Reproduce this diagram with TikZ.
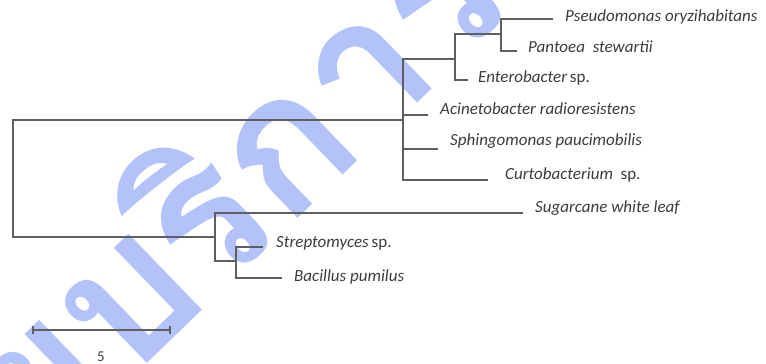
\documentclass[tikz,border=0pt]{standalone}
\usepackage{fontspec}
\setmainfont{Carlito}
\newfontfamily\thaifont[Script=Thai]{Loma}
\definecolor{wmblue}{RGB}{179,195,250}
\definecolor{branch}{RGB}{95,95,95}
\definecolor{labeltext}{RGB}{60,60,60}
\begin{document}
\begin{tikzpicture}[x=1pt,y=-1pt,
  branchline/.style={draw=branch,line width=1.3pt},
  leaflabel/.style={anchor=mid west,inner sep=0pt,text=labeltext,font=\fontsize{17}{20}\selectfont\itshape},
  scalelabel/.style={inner sep=0pt,text=labeltext,font=\fontsize{15}{17}\selectfont},
  wmtext/.style={inner sep=0pt,text=wmblue,font=\thaifont\bfseries\fontsize{190}{200}\selectfont,rotate=44}]
\useasboundingbox (0,0) rectangle (766,364);
% watermark
\begin{scope}
\clip (0,0) rectangle (766,364);
\node[wmtext,anchor=base west] (wm) at (125,385) {บริการ};
\node[wmtext,anchor=base east] (wmpre) at (wm.base west) {สำนักวิทย};
\end{scope}
% internal nodes
\coordinate (r)  at (13,178);
\coordinate (n3) at (403,120);
\coordinate (n5) at (215,237);
\coordinate (n2) at (455,59);
\coordinate (n1) at (501,34);
\coordinate (n4) at (236,261);
% leaf tips
\coordinate (psot) at (553,19);
\coordinate (pant) at (517,51);
\coordinate (entt) at (468,80);
\coordinate (acit) at (428,115);
\coordinate (spht) at (438,149);
\coordinate (curt) at (488,180);
\coordinate (sugt) at (523,213);
\coordinate (strt) at (263,247);
\coordinate (bact) at (282,278);
% branches
\draw[branchline] (n3) -| (r) |- (n5);
\draw[branchline] (n3) |- (n2);
\draw[branchline] (n3) |- (acit);
\draw[branchline] (n3) |- (spht);
\draw[branchline] (n3) |- (curt);
\draw[branchline] (n2) |- (n1);
\draw[branchline] (n2) |- (entt);
\draw[branchline] (n1) |- (psot);
\draw[branchline] (n1) |- (pant);
\draw[branchline] (n5) |- (sugt);
\draw[branchline] (n5) |- (n4);
\draw[branchline] (n4) |- (strt);
\draw[branchline] (n4) |- (bact);
% labels
\node[leaflabel] (psol) at (565,19) {Pseudomonas oryzihabitans};
\node[leaflabel] (panl) at (528,50) {Pantoea\ \ stewartii};
\node[leaflabel] (entl) at (478,80) {Enterobacter\,\upshape sp.};
\node[leaflabel] (acil) at (440,112.5) {Acinetobacter radioresistens};
\node[leaflabel] (sphl) at (450,143) {Sphingomonas paucimobilis};
\node[leaflabel] (curl) at (505,177) {Curtobacterium\ \ \upshape sp.};
\node[leaflabel] (sugl) at (535,210) {Sugarcane white leaf};
\node[leaflabel] (strl) at (276,245.5) {Streptomyces\,\upshape sp.};
\node[leaflabel] (bacl) at (294,279) {Bacillus pumilus};
% scale bar
\coordinate (sb1) at (33,330);
\coordinate (sb2) at (170,330);
\draw[branchline] (sb1) -- (sb2);
\draw[branchline] ([yshift=-4pt]sb1) -- ([yshift=4pt]sb1);
\draw[branchline] ([yshift=-4pt]sb2) -- ([yshift=4pt]sb2);
\node[scalelabel] (sbl) at (101,357) {5};
\end{tikzpicture}
\end{document}
